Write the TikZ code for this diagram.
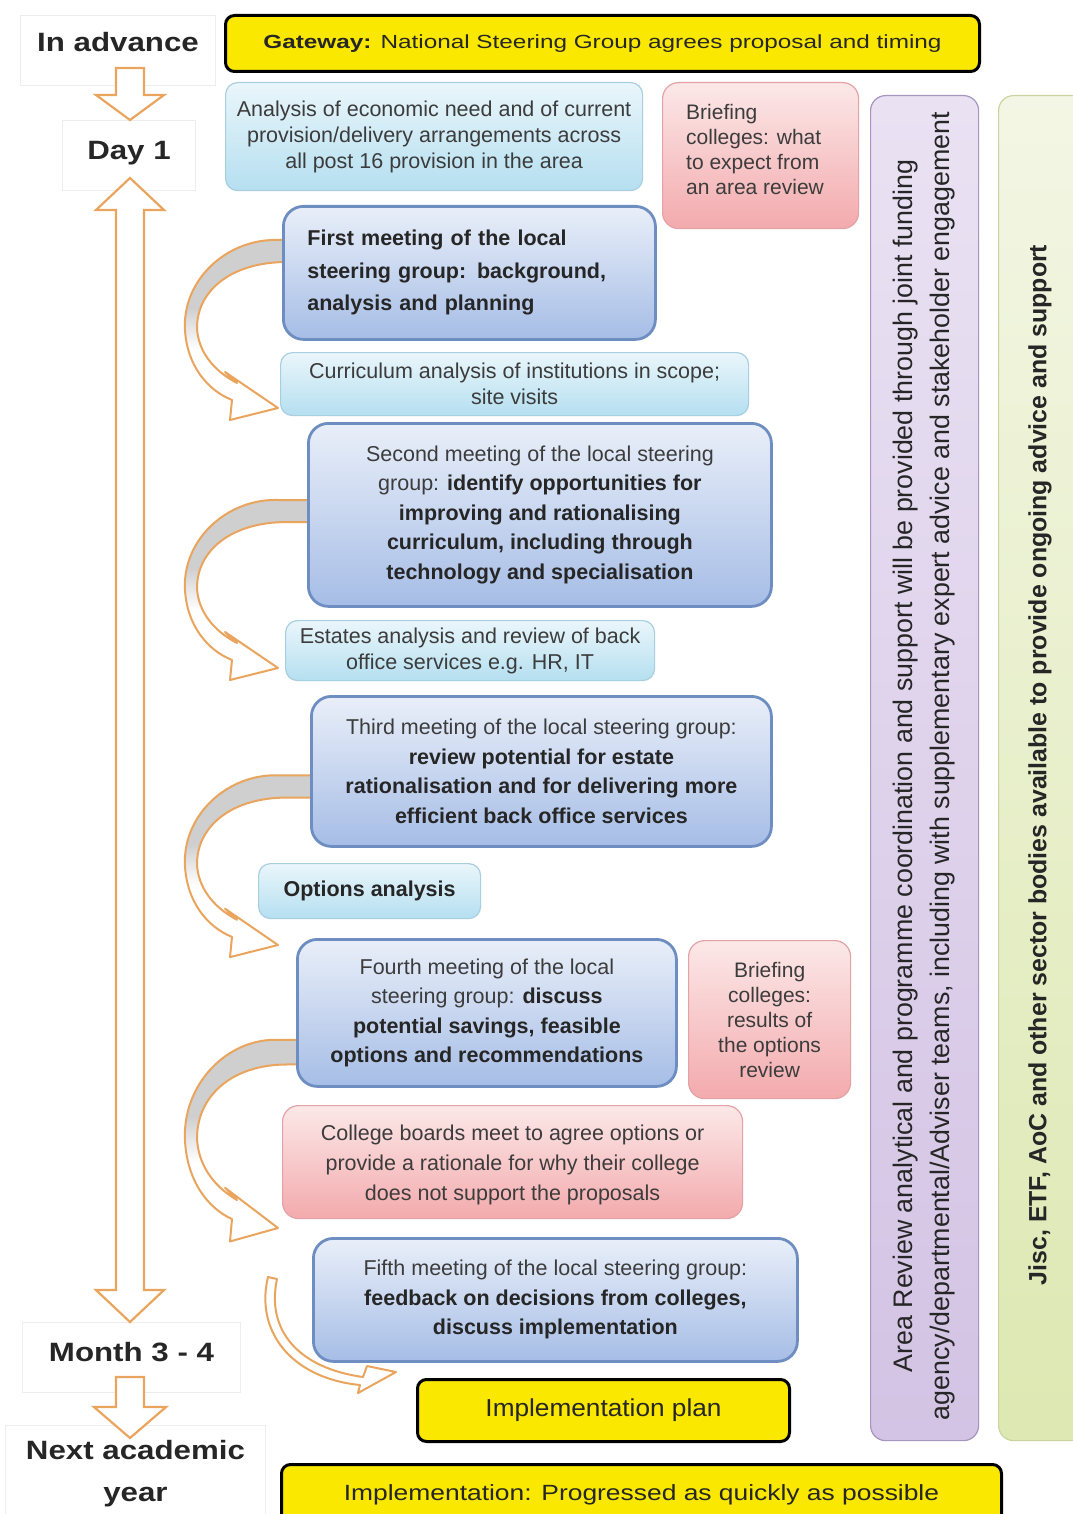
\documentclass[tikz,border=0pt]{standalone}
\usepackage{fontspec}
\setmainfont{Liberation Sans}
\definecolor{orA}{HTML}{E9A55E}
\definecolor{lbT}{HTML}{EAF6FB}
\definecolor{lbB}{HTML}{B5DFF0}
\definecolor{lbD}{HTML}{A8CFE0}
\definecolor{mT}{HTML}{E9EFF9}
\definecolor{mB}{HTML}{A6BDE6}
\definecolor{mD}{HTML}{6E8EC2}
\definecolor{pT}{HTML}{FCE8E8}
\definecolor{pB}{HTML}{F3AAAD}
\definecolor{pD}{HTML}{E3A3A6}
\definecolor{yelc}{HTML}{FAE800}
\definecolor{puT}{HTML}{EAE2F3}
\definecolor{puB}{HTML}{D3C3E4}
\definecolor{puD}{HTML}{A695BF}
\definecolor{grT}{HTML}{F3F6E4}
\definecolor{grB}{HTML}{DDE8B2}
\definecolor{grD}{HTML}{C9D4A0}
\definecolor{txt}{HTML}{3C3C3C}
\definecolor{txb}{HTML}{262626}
\newcommand{\fs}[2]{\fontsize{#1}{#2}\selectfont}
\newcommand{\up}[2]{\raisebox{#1}[\height][\depth]{#2}}
\newcommand{\carrowpath}{(42,-168) -- (1,-168) .. controls (-51,-170) and (-96,-128) .. (-93,-78) .. controls (-91,-43) and (-71,-18) .. (-46,-8) -- (-48,12) -- (0,0) -- (-53,-36) -- (-41,-25) .. controls (-66,-38) and (-80,-58) .. (-81,-80) .. controls (-81,-118) and (-46,-146) .. (9,-146) -- (42,-146) -- cycle}
\newcommand{\curvedarrow}[3]{%
  \begin{scope}[shift={(#1,#2)},yscale=#3]
    \fill[white] \carrowpath;
    \begin{scope}
      \clip \carrowpath;
      \fill[gray!38] (-120,-175) rectangle (60,-100);
      \shade[top color=gray!38, bottom color=white] (-120,-100.5) rectangle (60,-58);
    \end{scope}
    \draw[orA, line width=2pt, line join=round] \carrowpath;
  \end{scope}}
\begin{document}
\begin{tikzpicture}[x=1pt,y=-1pt,
  sz/.style 2 args={minimum width=#1, minimum height=#2},
  box/.style={anchor=north west, inner sep=0pt, align=center, text=txt, font=\fs{21.5}{26}},
  lblue/.style={box, rounded corners=12pt, draw=lbD, line width=1.2pt, top color=lbT, bottom color=lbB},
  meet/.style={box, rounded corners=20pt, draw=mD, line width=2.8pt, top color=mT, bottom color=mB, font=\fs{21.5}{29.5}},
  pinkb/.style={box, rounded corners=16pt, draw=pD, line width=1.2pt, top color=pT, bottom color=pB},
  yel/.style={box, rounded corners=9pt, draw=black, line width=3pt, fill=yelc, text=txb},
  tl/.style={box, draw=black!7, line width=1pt, fill=white, text=black!85, font=\fs{26.5}{42}\bfseries\addfontfeatures{FakeStretch=1.18}},
  harrow/.style={draw=orA, line width=2.2pt, fill=white, line join=miter}
]
\useasboundingbox (0,0) rectangle (1072,1514);
\fill[white] (0,0) rectangle (1072,1514);

% timeline labels
\node[tl, sz={195}{70}] (inadv) at (20,15) {\up{8pt}{In advance}};
\node[tl, sz={133}{70}] (day1) at (62,120) {\up{2pt}{Day 1}};
\node[tl, sz={218}{70}] (month) at (22,1322) {\up{5pt}{Month 3 - 4}};
\node[tl, sz={260}{96}] (next) at (5,1425) {Next academic\\year};

% timeline arrows
\draw[harrow] (116,68) -- (144,68) -- (144,95) -- (164,95) -- (130,120) -- (96,95) -- (116,95) -- cycle;
\draw[harrow] (130,178) -- (164,210) -- (144,210) -- (144,1290) -- (164,1290) -- (130,1322) -- (96,1290) -- (116,1290) -- (116,210) -- (96,210) -- cycle;
\draw[harrow] (116,1377) -- (144,1377) -- (144,1407) -- (166,1407) -- (130,1438) -- (94,1407) -- (116,1407) -- cycle;

% curved arrows
\curvedarrow{278}{408}{1}
\curvedarrow{278}{668}{1}
\curvedarrow{278}{945}{1.01}
\curvedarrow{278}{1228}{1.12}
\draw[orA, line width=2pt, fill=white, line join=round] (268,1277) .. controls (255,1330) and (290,1378) .. (360,1385) -- (358,1393) -- (396,1372) -- (367,1366) -- (363,1377) .. controls (298,1368) and (266,1330) .. (277,1279) -- cycle;

% header
\node[yel, sz={754}{56}, font=\fs{19}{24}\addfontfeatures{FakeStretch=1.28}] (gate) at (224,14) {\textbf{Gateway:} National Steering Group agrees proposal and timing};

% boxes
\node[lblue, sz={417}{108}] (anal) at (225,82) {Analysis of economic need and of current\\provision/delivery arrangements across\\all post 16 provision in the area};
\node[pinkb, sz={196}{146}] (brief1) at (662,82) {};
\node[anchor=north west, inner sep=0pt, align=left, text=txt, font=\fs{21}{25}] (brief1t) at (686,104) {Briefing\\colleges: what\\to expect from\\an area review};
\node[meet, sz={372}{133}, align=left, text width=324pt, inner xsep=24pt, font=\fs{21.5}{32.5}\bfseries, text=txb] (m1) at (282,205) {First meeting of the local\\steering group: background,\\analysis and planning};
\node[lblue, sz={468}{63}] (curr) at (280,352) {Curriculum analysis of institutions in scope;\\site visits};
\node[meet, sz={463}{183}] (m2) at (307,422) {Second meeting of the local steering\\group: \textbf{\color{txb}identify opportunities for}\\\textbf{\color{txb}improving and rationalising}\\\textbf{\color{txb}curriculum, including through}\\\textbf{\color{txb}technology and specialisation}};
\node[lblue, sz={369}{60}] (est) at (285,620) {Estates analysis and review of back\\office services e.g. HR, IT};
\node[meet, sz={460}{150}] (m3) at (310,695) {Third meeting of the local steering group:\\\textbf{\color{txb}review potential for estate}\\\textbf{\color{txb}rationalisation and for delivering more}\\\textbf{\color{txb}efficient back office services}};
\node[lblue, sz={222}{55}, font=\fs{21.5}{26}\bfseries, text=txb] (opt) at (258,863) {Options analysis};
\node[meet, sz={379}{147}] (m4) at (296,938) {Fourth meeting of the local\\steering group: \textbf{\color{txb}discuss}\\\textbf{\color{txb}potential savings, feasible}\\\textbf{\color{txb}options and recommendations}};
\node[pinkb, sz={162}{158}, font=\fs{21}{25}] (brief2) at (688,940) {Briefing\\colleges:\\results of\\the options\\review};
\node[pinkb, sz={460}{113}, font=\fs{21.5}{30}] (boards) at (282,1105) {\up{-3pt}{College boards meet to agree options or}\\\up{-3pt}{provide a rationale for why their college}\\\up{-3pt}{does not support the proposals}};
\node[meet, sz={484}{123}] (m5) at (312,1237) {Fifth meeting of the local steering group:\\\textbf{\color{txb}feedback on decisions from colleges,}\\\textbf{\color{txb}discuss implementation}};
\node[yel, sz={372}{62}, font=\fs{24.5}{28}\addfontfeatures{FakeStretch=1.07}] (plan) at (416,1378) {Implementation plan};
\node[yel, sz={720}{60}, font=\fs{22}{26}\addfontfeatures{FakeStretch=1.2}] (impl) at (280,1463) {Implementation: Progressed as quickly as possible};

% vertical bars
\node[box, sz={108}{1345}, rounded corners=15pt, draw=puD, line width=1.2pt, top color=puT, bottom color=puB] (purp) at (870,95) {};
\node[rotate=90, align=center, text=txb, font=\fs{26.8}{37}] (purpt) at (924,766) {Area Review analytical and programme coordination and support will be provided through joint funding\\agency/departmental/Adviser teams, including with supplementary expert advice and stakeholder engagement};
\node[box, sz={100}{1345}, rounded corners=15pt, draw=grD, line width=1.2pt, top color=grT, bottom color=grB] (green) at (998,95) {};
\node[rotate=90, align=center, text=txb, font=\fs{24.9}{28}\bfseries] (greent) at (1040,765) {Jisc, ETF, AoC and other sector bodies available to provide ongoing advice and support};
\end{tikzpicture}
\end{document}
